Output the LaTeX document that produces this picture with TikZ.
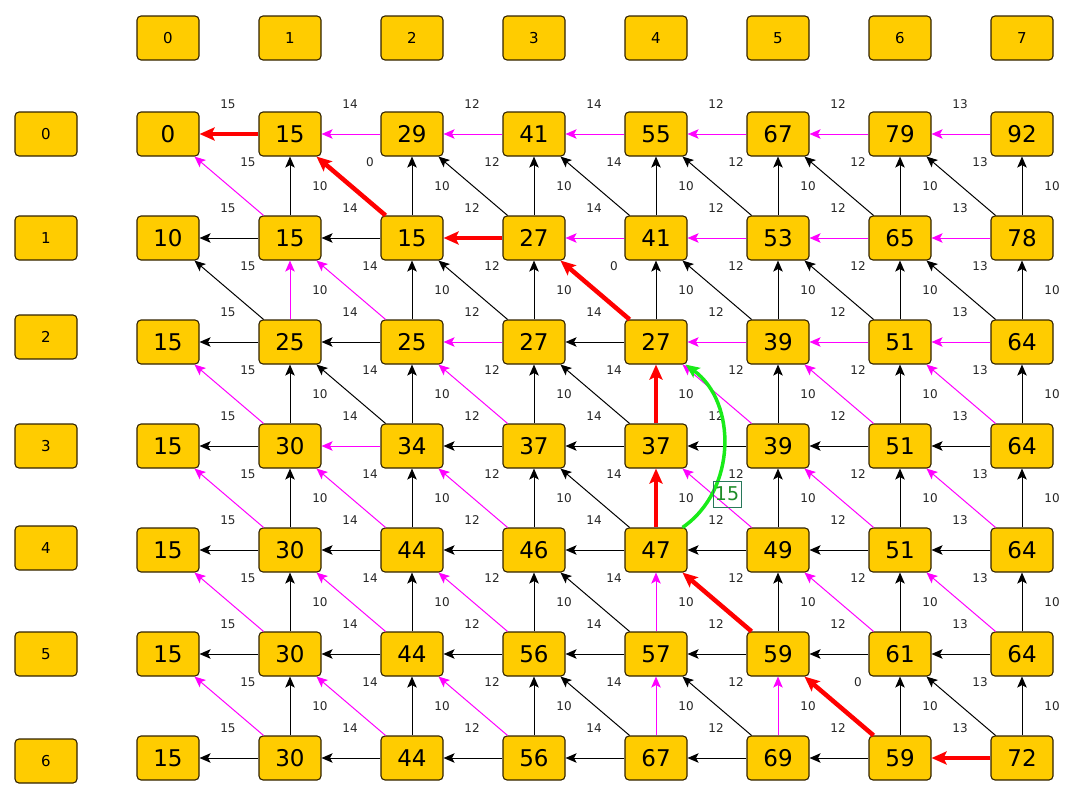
\documentclass[tikz,border=0pt]{standalone}
\usepackage{fontspec}
\setmainfont{DejaVu Sans}
\usetikzlibrary{arrows.meta}
\definecolor{gold}{RGB}{255,204,0}
\definecolor{bord}{RGB}{50,35,0}
\definecolor{mag}{RGB}{255,0,255}
\definecolor{pathred}{RGB}{255,0,0}
\definecolor{brgreen}{RGB}{25,235,25}
\definecolor{lblgreen}{RGB}{30,140,40}
\definecolor{boxgreen}{RGB}{40,120,90}
\def\setE#1#2{\expandafter\def\csname e#1\endcsname{#2}}
% horizontal edges
\setE{H01}{rd}\setE{H02}{mg}\setE{H03}{mg}\setE{H04}{mg}\setE{H05}{mg}\setE{H06}{mg}\setE{H07}{mg}
\setE{H13}{rd}\setE{H14}{mg}\setE{H15}{mg}\setE{H16}{mg}\setE{H17}{mg}
\setE{H23}{mg}\setE{H25}{mg}\setE{H26}{mg}\setE{H27}{mg}
\setE{H32}{mg}\setE{H67}{rd}
% vertical edges
\setE{V21}{mg}\setE{V34}{rd}\setE{V44}{rd}\setE{V54}{mg}\setE{V64}{mg}\setE{V65}{mg}
% diagonal edges
\setE{D11}{mg}\setE{D12}{rd}\setE{D22}{mg}\setE{D24}{rd}
\setE{D31}{mg}\setE{D33}{mg}\setE{D35}{mg}\setE{D36}{mg}\setE{D37}{mg}
\setE{D41}{mg}\setE{D42}{mg}\setE{D43}{mg}\setE{D45}{mg}\setE{D46}{mg}\setE{D47}{mg}
\setE{D51}{mg}\setE{D52}{mg}\setE{D53}{mg}\setE{D55}{rd}\setE{D56}{mg}\setE{D57}{mg}
\setE{D61}{mg}\setE{D62}{mg}\setE{D63}{mg}\setE{D66}{rd}
% diagonal labels that are 0
\setE{L12}{0}\setE{L24}{0}\setE{L66}{0}
\begin{document}
\begin{tikzpicture}[x=1pt,y=-1pt,
 cell/.style={draw=bord,fill=gold,rounded corners=4pt,line width=1.1pt,minimum width=62pt,minimum height=44pt,inner sep=0pt,font=\fontsize{23}{25}\selectfont},
 hdr/.style={cell,font=\fontsize{15}{17}\selectfont},
 elbl/.style={font=\fontsize{12}{13}\selectfont,text=black!85,inner sep=0pt},
 blk/.style={draw=black,line width=1pt,-{Stealth[length=11pt,width=9.5pt,inset=2.5pt]}},
 mg/.style={draw=mag,line width=1pt,-{Stealth[length=11pt,width=9.5pt,inset=2.5pt]}},
 rd/.style={draw=pathred,line width=4.5pt,-{Stealth[length=15pt,width=13pt,inset=3pt]}},
 gr/.style={draw=brgreen,line width=3.5pt,-{Stealth[length=14pt,width=12pt,inset=3pt]}},
]
\useasboundingbox (0,0) rectangle (1077,798);
% column headers
\foreach \c in {0,...,7} \node[hdr] (ch\c) at ({168+122*\c},38) {\c};
% row headers
\foreach \r/\y in {0/134,1/238,2/337,3/446,4/548,5/654,6/761} \node[hdr] (rh\r) at (46,\y) {\r};
% cells
\foreach \r/\vals in {0/{0,15,29,41,55,67,79,92},1/{10,15,15,27,41,53,65,78},2/{15,25,25,27,27,39,51,64},3/{15,30,34,37,37,39,51,64},4/{15,30,44,46,47,49,51,64},5/{15,30,44,56,57,59,61,64},6/{15,30,44,56,67,69,59,72}}{
  \foreach \v [count=\ci from 0] in \vals
    \node[cell] (n\r\ci) at ({168+122*\ci},{134+104*\r}) {\v};
}
% horizontal edges and labels
\foreach \r in {0,...,6}{
  \foreach \c/\w in {1/15,2/14,3/12,4/14,5/12,6/12,7/13}{
    \pgfmathtruncatemacro\cp{\c-1}
    \ifcsname eH\r\c\endcsname\edef\st{\csname eH\r\c\endcsname}\else\def\st{blk}\fi
    \edef\tmp{\noexpand\draw[\st] (n\r\c) -- (n\r\cp);}\tmp
    \node[elbl] (lh\r\c) at ({168+122*\c-62},{134+104*\r-30}) {\w};
  }
}
% vertical and diagonal edges and labels
\foreach \r in {1,...,6}{
  \foreach \c/\w in {1/15,2/14,3/12,4/14,5/12,6/12,7/13}{
    \pgfmathtruncatemacro\cp{\c-1}
    \pgfmathtruncatemacro\rp{\r-1}
    \ifcsname eV\r\c\endcsname\edef\st{\csname eV\r\c\endcsname}\else\def\st{blk}\fi
    \edef\tmp{\noexpand\draw[\st] (n\r\c) -- (n\rp\c);}\tmp
    \ifcsname eD\r\c\endcsname\edef\st{\csname eD\r\c\endcsname}\else\def\st{blk}\fi
    \edef\tmp{\noexpand\draw[\st] (n\r\c) -- (n\rp\cp);}\tmp
    \node[elbl] (lv\r\c) at ({168+122*\c+30},{134+104*\r-52}) {10};
    \ifcsname eL\r\c\endcsname\edef\lw{\csname eL\r\c\endcsname}\else\edef\lw{\w}\fi
    \node[elbl] (ld\r\c) at ({168+122*\c-42},{134+104*\rp+28}) {\lw};
  }
}
% green curved edge
\draw[gr] ([xshift=-5pt]n44.north east) .. controls (737,490) and (737,402) .. ([xshift=-2pt]n24.south east);
\node[draw=boxgreen,text=lblgreen,line width=0.6pt,inner sep=1pt,minimum width=28pt,minimum height=26pt,font=\fontsize{19}{20}\selectfont] (gl) at (727,494) {15};
\end{tikzpicture}
\end{document}
